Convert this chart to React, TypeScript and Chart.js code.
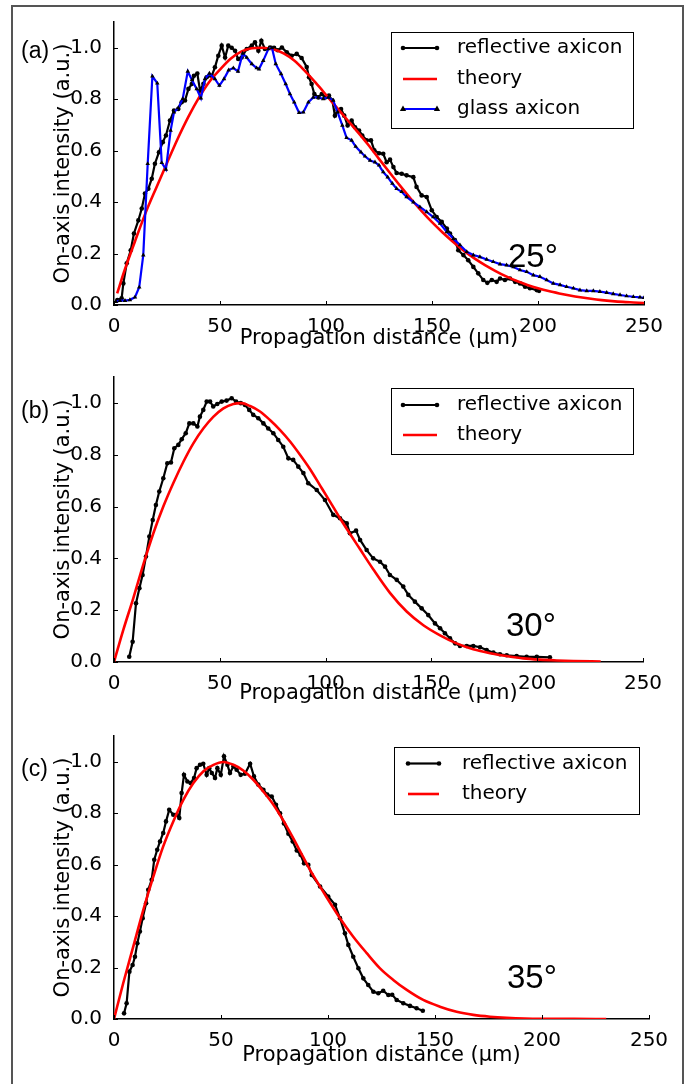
import { useEffect, useRef } from 'react';
import { Chart, registerables } from 'chart.js';

Chart.register(...registerables);

// ---------- axes / text ----------
const xTicks = [0, 50, 100, 150, 200, 250];
const yTicks = [0, 0.2, 0.4, 0.6, 0.8, 1.0];
const xTitle = 'Propagation distance (μm)';
const yTitle = 'On-axis intensity (a.u.)';
const legendLabels = ['reflective axicon', 'theory', 'glass axicon'];
const panelLabels = ['(a)', '(b)', '(c)'];
const angleLabels = ['25°', '30°', '35°'];

// ---------- panel (a) 25° ----------
const aReflX = [1.6,3.6,4.4,6,7.9,9.4,11.5,13.1,14.6,16.2,17.8,19.3,21.2,23,24.5,26.4,28.3,30.3,31.9,33.5,35.1,36.7,37.7,39.3,40.6,42.2,43.7,46.1,47.6,49.2,50.8,52.4,53.9,55.5,57.1,58.6,60.2,62.6,65,66.5,68.1,69.5,71.2,73.6,75.5,77.2,79.2,81.5,83.8,86.2,88.5,90.9,92,93.2,94.5,96.4,98,99.5,101.4,103,104.2,105.5,107.1,108.6,110.2,112.1,113.7,115.6,117.1,119.2,121.2,122.8,125,127,128.6,130.2,131.8,133.3,135.7,138,141.2,142.7,145.1,147.5,149.9,152.2,154.6,157,158.5,160.8,162.4,164.8,167.1,169.5,171.8,174.2,176.1,178.2,180.5,182.1,184.4,186.8,189.2,191.5,193.9,196.2,199.4,200.5];
const aReflY = [0.019,0.026,0.084,0.162,0.213,0.278,0.329,0.375,0.433,0.452,0.491,0.549,0.594,0.633,0.659,0.717,0.756,0.762,0.788,0.795,0.84,0.859,0.891,0.9,0.833,0.86,0.885,0.891,0.924,0.969,1.008,0.962,1.008,1.0,0.988,0.956,0.962,0.995,1.008,1.021,0.988,1.027,0.995,1.001,1.0,0.99,1.001,0.982,0.969,0.976,0.96,0.925,0.885,0.859,0.82,0.807,0.82,0.807,0.814,0.795,0.736,0.756,0.762,0.736,0.698,0.717,0.691,0.678,0.659,0.64,0.64,0.601,0.59,0.588,0.555,0.565,0.536,0.513,0.51,0.504,0.497,0.459,0.426,0.42,0.368,0.342,0.323,0.297,0.278,0.252,0.213,0.194,0.174,0.148,0.123,0.097,0.086,0.097,0.09,0.103,0.097,0.103,0.09,0.084,0.071,0.065,0.058,0.055];
const aTheoryX = [1.5,5,10,15,20,25,30,35,40,45,50,55,60,65,70,75,80,85,90,95,100,105,110,115,120,125,130,135,140,145,150,155,160,165,170,175,180,185,190,195,200,205,210,215,220,225,230,235,240,245,250];
const aTheoryY = [0.045,0.135,0.25,0.36,0.457,0.552,0.645,0.73,0.805,0.868,0.915,0.957,0.985,0.998,1.0,0.994,0.978,0.95,0.91,0.865,0.817,0.768,0.72,0.672,0.622,0.568,0.515,0.463,0.413,0.366,0.322,0.282,0.245,0.211,0.181,0.155,0.132,0.111,0.093,0.078,0.065,0.054,0.045,0.037,0.03,0.024,0.019,0.015,0.012,0.01,0.008];
const aGlassX = [0.9,2.8,5.2,7.5,9.9,11.9,13.8,15.9,18.1,20.4,22.5,24.5,26.7,28.3,30.3,32.4,34.8,36.8,39,41,42.9,45,47.6,49.7,51.9,54.1,56.3,58.5,60.7,62.6,65,67.3,68.4,70.4,72.8,74.5,76.3,78.8,81,83,85,87.3,89.3,91.7,94,96.4,98.7,101.1,103.4,105.5,107.7,109.7,112.1,114,116.5,118.4,120.8,123.1,125,127,129.1,131.3,133.3,135.7,138,141.2,144.3,147.5,150.6,153.8,157,160.1,163.2,166.4,169.5,172.6,175.8,178.9,182.1,185.2,188.4,191.5,194.7,197.8,200.9,204.1,207.2,210.4,213.5,216.7,219.8,223,226.1,229.2,232.4,235.5,238.7,241.8,245,248.1,250];
const aGlassY = [0.013,0.017,0.017,0.02,0.03,0.069,0.194,0.549,0.889,0.862,0.553,0.527,0.678,0.749,0.766,0.801,0.908,0.875,0.84,0.804,0.879,0.9,0.879,0.853,0.879,0.913,0.921,0.908,0.978,0.962,0.937,0.921,0.917,0.95,0.995,1.0,0.937,0.898,0.859,0.82,0.788,0.747,0.749,0.788,0.807,0.807,0.801,0.807,0.795,0.749,0.698,0.65,0.64,0.616,0.594,0.578,0.562,0.555,0.543,0.517,0.497,0.472,0.452,0.44,0.42,0.40,0.381,0.362,0.342,0.317,0.284,0.258,0.233,0.207,0.194,0.187,0.177,0.168,0.159,0.155,0.148,0.136,0.129,0.116,0.11,0.097,0.084,0.078,0.071,0.065,0.058,0.055,0.055,0.052,0.048,0.043,0.039,0.035,0.032,0.03,0.028];

// ---------- panel (b) 30° ----------
const bReflX = [7.2,8.8,10.4,12,13.5,15.1,16.7,18.3,19.8,21.4,23.3,25.2,26.9,28.5,30.4,32,33.9,35.6,37.5,39.4,40.6,42.2,43.8,45.4,46.9,48.8,50.9,53.2,55.6,57.7,59.9,61.9,63.9,65.8,68.2,70.6,72.9,75.3,77.6,80,82.4,84.7,87.1,89.5,91.8,95.8,99.7,103.6,106.8,110,111.5,114.4,116.3,119.4,122.5,125.7,128.1,130.4,133.6,136.7,139.1,142.2,145.4,148.5,151.7,154.1,156.4,158.8,161.2,163.5,166.7,169.8,173,176.1,179.3,182.4,185.6,190.3,195,199.8,206];
const bReflY = [0.02,0.078,0.227,0.285,0.336,0.407,0.484,0.548,0.606,0.658,0.709,0.767,0.77,0.825,0.838,0.86,0.883,0.921,0.921,0.909,0.947,0.973,1.005,1.005,0.986,0.996,1.005,1.009,1.018,1.005,0.999,0.992,0.973,0.954,0.941,0.921,0.901,0.883,0.857,0.831,0.786,0.78,0.754,0.729,0.69,0.664,0.625,0.568,0.555,0.535,0.497,0.507,0.471,0.432,0.4,0.387,0.368,0.336,0.317,0.291,0.259,0.233,0.207,0.181,0.149,0.13,0.111,0.091,0.072,0.062,0.062,0.062,0.057,0.046,0.036,0.03,0.026,0.023,0.02,0.02,0.018];
const bTheoryX = [0,4.4,9.1,13.8,18.6,23.3,28,32.8,37.5,42.2,46.9,51.7,56.4,60.3,64.3,69,73.7,78.4,83.2,87.9,92.6,97.5,102,106.8,111.5,116.3,122.5,130.4,138.3,146.2,154.1,161.9,169.8,177.7,185.6,193.4,201.3,209.2,217.1,230];
const bTheoryY = [0,0.124,0.246,0.375,0.497,0.6,0.69,0.773,0.844,0.901,0.946,0.979,0.996,0.999,0.988,0.967,0.934,0.896,0.851,0.8,0.745,0.68,0.62,0.555,0.495,0.435,0.358,0.267,0.195,0.142,0.103,0.072,0.049,0.034,0.023,0.014,0.009,0.006,0.004,0.002];

// ---------- panel (c) 35° ----------
const cReflX = [4.7,5.9,7.2,8.7,9.8,10.9,12.1,13.4,15,16,17.6,18.8,20.2,21.5,23,24.3,25.8,27.7,29.3,30.5,31.6,32.7,34.3,35.8,37.4,38.6,40.2,41.7,43.3,44.5,45.7,47.2,48.3,49.9,51.4,53,54.2,55.8,57.3,59.2,61.2,63.6,65.4,67.4,69.8,71.6,73.7,75.7,77.6,79.4,81.5,83.5,85.4,87.2,88.8,90.8,92.4,96.3,100.1,103.3,105.6,107.9,109.5,111.8,114.2,116.5,118.8,121.2,123.5,125.8,128.2,130,132.1,135.2,138.3,141.4,144.3];
const cReflY = [0.022,0.061,0.184,0.21,0.242,0.294,0.34,0.392,0.45,0.502,0.541,0.619,0.658,0.69,0.723,0.768,0.813,0.794,0.794,0.781,0.878,0.949,0.923,0.917,0.937,0.975,0.988,0.992,0.949,0.975,0.956,0.937,0.975,0.949,1.021,0.988,0.956,0.982,0.969,0.949,0.953,0.992,0.943,0.911,0.891,0.872,0.865,0.833,0.8,0.76,0.72,0.69,0.655,0.638,0.605,0.599,0.56,0.515,0.476,0.444,0.392,0.333,0.288,0.242,0.197,0.158,0.132,0.106,0.1,0.11,0.093,0.094,0.074,0.061,0.051,0.042,0.032];
const cTheoryX = [0,4.3,9,13.7,18.4,23,27.7,32.4,37.1,41.8,46.5,51.1,55.8,60.4,65.1,69.8,74.5,79.1,83.8,88.5,91.6,98.5,105.6,111.8,118.1,124.3,130.5,136.8,144.5,152.3,160.1,167.9,175.7,183.5,199.1,215,230];
const cTheoryY = [0,0.139,0.281,0.424,0.554,0.671,0.768,0.852,0.917,0.963,0.988,0.999,0.988,0.966,0.93,0.884,0.833,0.772,0.702,0.628,0.58,0.485,0.392,0.32,0.256,0.197,0.152,0.113,0.074,0.048,0.028,0.016,0.009,0.005,0.001,0.0005,0];

function pts(xs: number[], ys: number[]) {
  const n = Math.min(xs.length, ys.length);
  const out: { x: number; y: number }[] = [];
  for (let i = 0; i < n; i++) out.push({ x: xs[i], y: ys[i] });
  return out;
}

type Series = {
  label: string; x: number[]; y: number[]; color: string; width: number;
  marker: string | null; markerSize: number; smooth: boolean; order: number;
};

const refl = (x: number[], y: number[]): Series => ({ label: legendLabels[0], x, y, color: '#000000', width: 2.2, marker: 'circle', markerSize: 2.3, smooth: false, order: 2 });
const theory = (x: number[], y: number[]): Series => ({ label: legendLabels[1], x, y, color: '#ff0000', width: 2.6, marker: null, markerSize: 0, smooth: true, order: 1 });
const glass = (x: number[], y: number[]): Series => ({ label: legendLabels[2], x, y, color: '#0000ff', width: 2.2, marker: 'triangle', markerSize: 2.6, smooth: false, order: 0 });

const TITLE_SIZE = 21;
const TITLE_LH = TITLE_SIZE * 1.2;

const panels = [
  {
    top: 0, height: 360, area: { top: 22, bottom: 305, right: 644 }, xGap: 34,
    label: panelLabels[0], labelY: 57.5, angle: angleLabels[0], angleX: 508, angleY: 267,
    legend: { x: 391, y: 32, w: 242, h: 96, rows: [48, 79, 109], l0: 403, l1: 437, tx: 457 },
    series: [refl(aReflX, aReflY), theory(aTheoryX, aTheoryY), glass(aGlassX, aGlassY)],
  },
  {
    top: 360, height: 360, area: { top: 17, bottom: 302, right: 643 }, xGap: 32,
    label: panelLabels[1], labelY: 57.5, angle: angleLabels[1], angleX: 506, angleY: 276,
    legend: { x: 391, y: 28, w: 242, h: 66, rows: [45, 75], l0: 403, l1: 437, tx: 457 },
    series: [refl(bReflX, bReflY), theory(bTheoryX, bTheoryY)],
  },
  {
    top: 720, height: 364, area: { top: 16, bottom: 299, right: 649 }, xGap: 37,
    label: panelLabels[2], labelY: 55.5, angle: angleLabels[2], angleX: 507, angleY: 268,
    legend: { x: 394, y: 27, w: 245, h: 67, rows: [43.5, 74], l0: 408, l1: 439, tx: 462 },
    series: [refl(cReflX, cReflY), theory(cTheoryX, cTheoryY)],
  },
];

const CHART_LEFT = 114;
const YTITLE_CX = 64;

function drawMarker(ctx: CanvasRenderingContext2D, style: string, x: number, y: number, r: number) {
  ctx.beginPath();
  if (style === 'triangle') {
    ctx.moveTo(x, y - r * 1.3);
    ctx.lineTo(x + r * 1.2, y + r * 0.8);
    ctx.lineTo(x - r * 1.2, y + r * 0.8);
    ctx.closePath();
  } else {
    ctx.arc(x, y, r, 0, Math.PI * 2);
  }
  ctx.fill();
}

function makeDecor(p: any) {
  return {
    id: 'decor',
    afterDraw(chart: any) {
      const ctx: CanvasRenderingContext2D = chart.ctx;
      const { left, bottom } = chart.chartArea;
      const xs = chart.scales.x;
      const ys = chart.scales.y;
      ctx.save();
      // inward tick marks
      ctx.strokeStyle = '#000';
      ctx.lineWidth = 1;
      xTicks.forEach((v) => {
        const px = Math.round(xs.getPixelForValue(v)) + 0.5;
        ctx.beginPath(); ctx.moveTo(px, bottom); ctx.lineTo(px, bottom - 4); ctx.stroke();
      });
      yTicks.forEach((v) => {
        const py = Math.round(ys.getPixelForValue(v)) + 0.5;
        ctx.beginPath(); ctx.moveTo(left, py); ctx.lineTo(left + 4, py); ctx.stroke();
      });
      // panel label
      ctx.fillStyle = '#000';
      ctx.textAlign = 'left';
      ctx.textBaseline = 'alphabetic';
      ctx.font = '23px "Liberation Sans", Arial, sans-serif';
      ctx.fillText(p.label, 21, p.labelY);
      // angle annotation
      ctx.font = '33px "Liberation Sans", Arial, sans-serif';
      ctx.fillText(p.angle, p.angleX, p.angleY);
      // legend
      const L = p.legend;
      ctx.fillStyle = '#fff';
      ctx.fillRect(L.x, L.y, L.w, L.h);
      ctx.strokeStyle = '#000';
      ctx.lineWidth = 1;
      ctx.strokeRect(L.x + 0.5, L.y + 0.5, L.w, L.h);
      ctx.font = '20px "DejaVu Sans", sans-serif';
      ctx.textBaseline = 'middle';
      p.series.forEach((s: Series, i: number) => {
        const ry = L.rows[i];
        if (ry === undefined) return;
        ctx.strokeStyle = s.color;
        ctx.lineWidth = s.width;
        ctx.beginPath(); ctx.moveTo(L.l0, ry); ctx.lineTo(L.l1, ry); ctx.stroke();
        if (s.marker) {
          ctx.fillStyle = '#000';
          drawMarker(ctx, s.marker, L.l0, ry, s.markerSize);
          drawMarker(ctx, s.marker, L.l1, ry, s.markerSize);
        }
        ctx.fillStyle = '#000';
        ctx.fillText(s.label, L.tx, ry);
      });
      ctx.restore();
    },
  };
}

function buildConfig(p: any): any {
  const xH = p.xGap + TITLE_LH / 2;
  const padLeft = YTITLE_CX - TITLE_LH / 2;
  const yW = CHART_LEFT - padLeft;
  const padBottom = p.height - p.area.bottom - xH;
  return {
    type: 'scatter',
    data: {
      datasets: p.series.map((s: Series) => ({
        label: s.label,
        data: pts(s.x, s.y),
        showLine: true,
        borderColor: s.color,
        backgroundColor: s.color,
        borderWidth: s.width,
        pointRadius: s.marker ? s.markerSize : 0,
        pointHoverRadius: 0,
        pointStyle: s.marker || 'circle',
        pointBackgroundColor: '#000',
        pointBorderColor: '#000',
        pointBorderWidth: 0,
        cubicInterpolationMode: s.smooth ? 'monotone' : 'default',
        tension: 0,
        order: s.order,
      })),
    },
    options: {
      responsive: false,
      animation: false,
      devicePixelRatio: 1,
      events: [],
      layout: { padding: { left: padLeft, top: p.area.top, right: 688 - p.area.right, bottom: padBottom } },
      plugins: { legend: { display: false }, tooltip: { enabled: false } },
      scales: {
        x: {
          type: 'linear', min: 0, max: 250,
          afterBuildTicks: (s: any) => { s.ticks = xTicks.map((v) => ({ value: v })); },
          afterFit: (s: any) => { s.height = xH; },
          grid: { display: false },
          border: { display: true, color: '#000', width: 1.5 },
          ticks: { color: '#000', font: { family: 'DejaVu Sans', size: 20 }, padding: 2, autoSkip: false, maxRotation: 0, callback: (v: any) => String(v) },
          title: { display: true, text: xTitle, color: '#000', font: { family: 'DejaVu Sans', size: TITLE_SIZE }, padding: 0 },
        },
        y: {
          type: 'linear', min: 0, max: 1.1,
          afterBuildTicks: (s: any) => { s.ticks = yTicks.map((v) => ({ value: v })); },
          afterFit: (s: any) => { s.width = yW; },
          grid: { display: false },
          border: { display: true, color: '#000', width: 1.5 },
          ticks: { color: '#000', font: { family: 'DejaVu Sans', size: 20 }, padding: 4, callback: (v: any) => Number(v).toFixed(1) },
          title: { display: true, text: yTitle, color: '#000', font: { family: 'DejaVu Sans', size: TITLE_SIZE }, padding: 0 },
        },
      },
    },
    plugins: [makeDecor(p)],
  };
}

export default function App() {
  const r0 = useRef<HTMLCanvasElement>(null);
  const r1 = useRef<HTMLCanvasElement>(null);
  const r2 = useRef<HTMLCanvasElement>(null);
  const refs = [r0, r1, r2];

  useEffect(() => {
    const charts = panels.map((p, i) => new Chart(refs[i].current as HTMLCanvasElement, buildConfig(p)));
    return () => charts.forEach((c) => c.destroy());
  }, []);

  return (
    <div style={{ position: 'fixed', left: 0, top: 0, width: 688, height: 1084, overflow: 'hidden', background: '#fff' }}>
      <div style={{ position: 'absolute', left: 11, top: 5, width: 673, height: 1200, border: '2px solid #555', boxSizing: 'border-box' }} />
      {panels.map((p, i) => (
        <canvas
          key={i}
          ref={refs[i]}
          width={688}
          height={p.height}
          style={{ position: 'absolute', left: 0, top: p.top, width: 688, height: p.height, display: 'block' }}
        />
      ))}
    </div>
  );
}
